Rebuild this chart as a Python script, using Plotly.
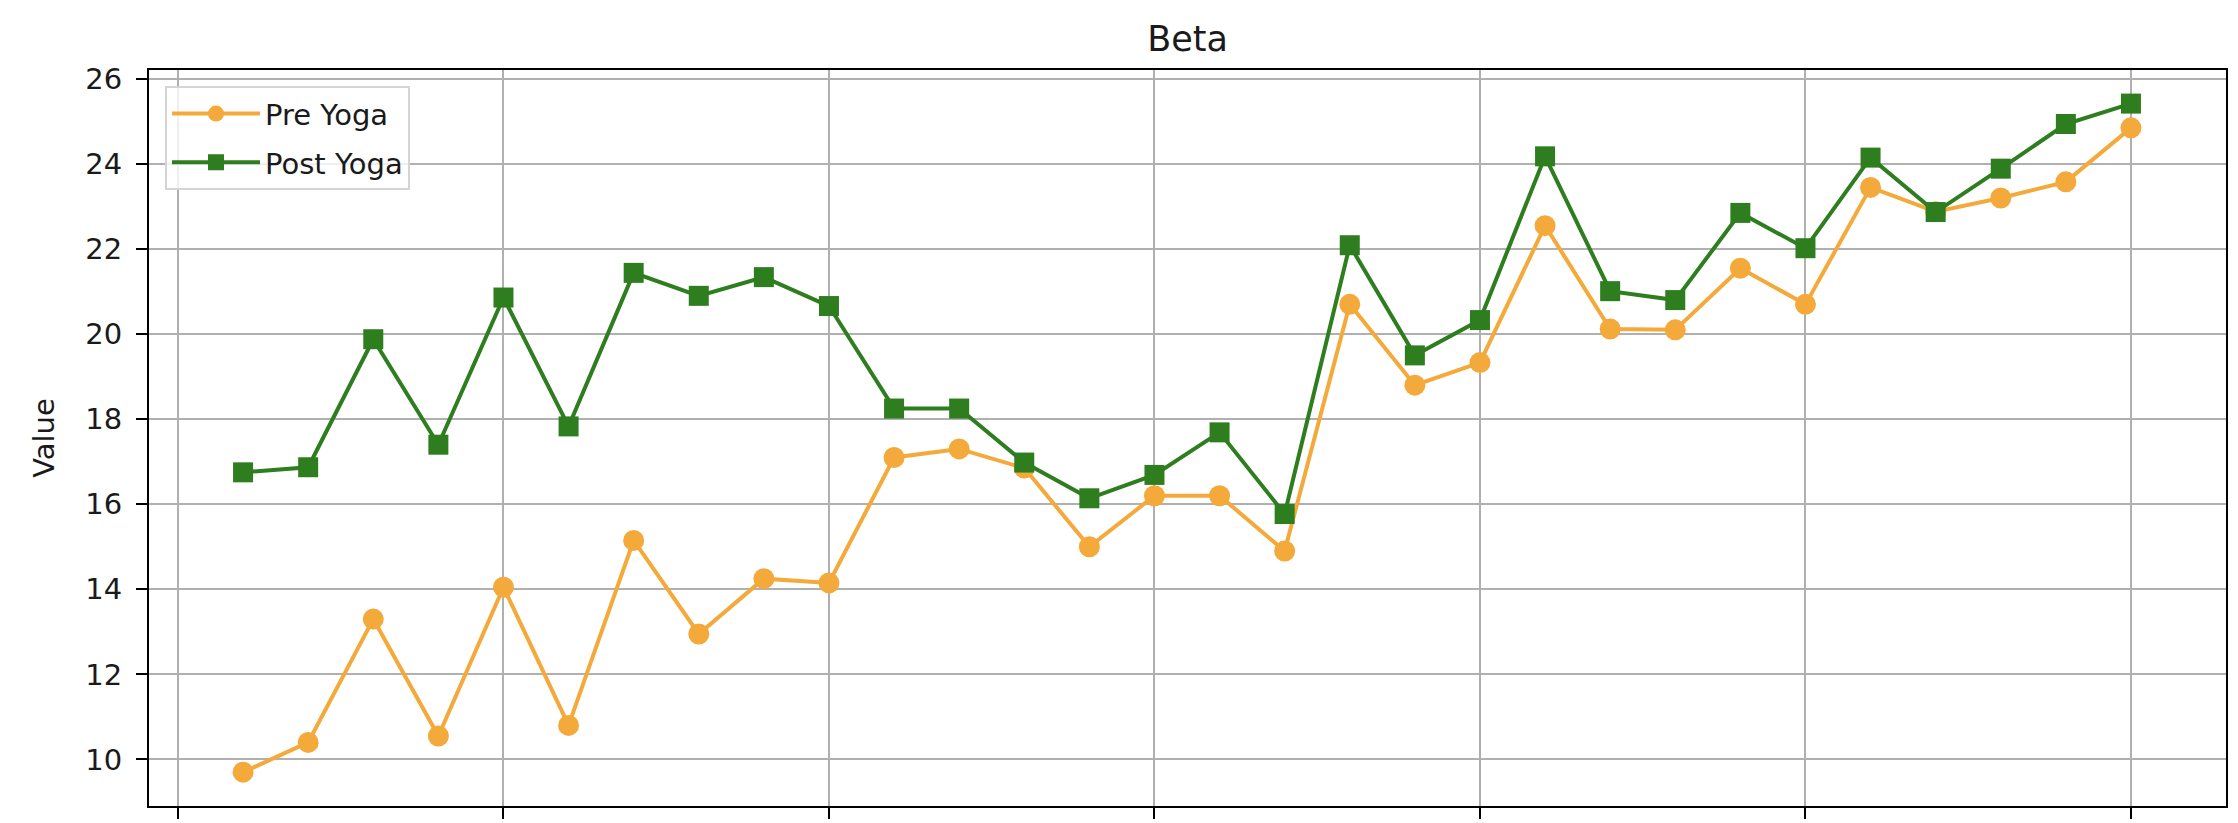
import plotly.graph_objects as go

sessions = list(range(1, 31))
pre_yoga = [9.7, 10.4, 13.3, 10.55, 14.05, 10.8, 15.15, 12.95, 14.25, 14.15,
            17.1, 17.3, 16.85, 15.0, 16.2, 16.2, 14.9, 20.7, 18.8, 19.33,
            22.55, 20.12, 20.1, 21.55, 20.7, 23.45, 22.88, 23.2, 23.58, 24.85]
post_yoga = [16.75, 16.87, 19.88, 17.4, 20.86, 17.83, 21.44, 20.9, 21.34, 20.66,
             18.25, 18.25, 16.98, 16.14, 16.69, 17.69, 15.77, 22.09, 19.5, 20.33,
             24.18, 21.01, 20.8, 22.85, 22.02, 24.15, 22.87, 23.89, 24.94, 25.42]
x_ticks = [0, 5, 10, 15, 20, 25, 30]
y_ticks = [10, 12, 14, 16, 18, 20, 22, 24, 26]

ORANGE = "#F4A93B"
GREEN = "#2E7D1F"
FONT = "DejaVu Sans"
TXT = "#1a1a1a"

fig = go.Figure()
fig.add_trace(go.Scatter(
    x=sessions, y=pre_yoga, name="Pre Yoga", legendgroup="pre",
    mode="lines+markers",
    line=dict(color=ORANGE, width=4),
    marker=dict(symbol="circle", size=21, color=ORANGE),
))
fig.add_trace(go.Scatter(
    x=sessions, y=post_yoga, name="Post Yoga", legendgroup="post",
    mode="lines+markers",
    line=dict(color=GREEN, width=4),
    marker=dict(symbol="square", size=20, color=GREEN),
))

axis_style = dict(
    showgrid=True, gridcolor="#b0b0b0", gridwidth=2,
    showline=True, linecolor="black", linewidth=2, mirror=True,
    ticks="outside", ticklen=11, tickwidth=2, tickcolor="black",
    zeroline=False,
)

fig.update_xaxes(range=[-0.445, 31.46], tickvals=x_ticks,
                 showticklabels=False, **axis_style)
fig.update_yaxes(range=[8.905, 26.21], tickvals=y_ticks,
                 tickfont=dict(size=29, color=TXT), ticklabelstandoff=8,
                 title=dict(text="Value", font=dict(size=29, color=TXT), standoff=22),
                 **axis_style)

fig.update_layout(
    width=2238, height=823,
    font=dict(family=FONT, color=TXT),
    paper_bgcolor="white", plot_bgcolor="white",
    margin=dict(l=141, r=20, t=62, b=25),
    title=dict(text="Beta", x=0.5, xref="paper", y=0.963, yref="container",
               xanchor="center", yanchor="middle", font=dict(size=35, color=TXT)),
    legend=dict(x=0.0077, y=0.978, xanchor="left", yanchor="top",
                bgcolor="rgba(255,255,255,0.8)", bordercolor="#d5d5d5", borderwidth=2,
                font=dict(size=29, color=TXT), itemwidth=88,
                traceorder="grouped", tracegroupgap=8),
    showlegend=True,
)

fig.write_html("out.html")
